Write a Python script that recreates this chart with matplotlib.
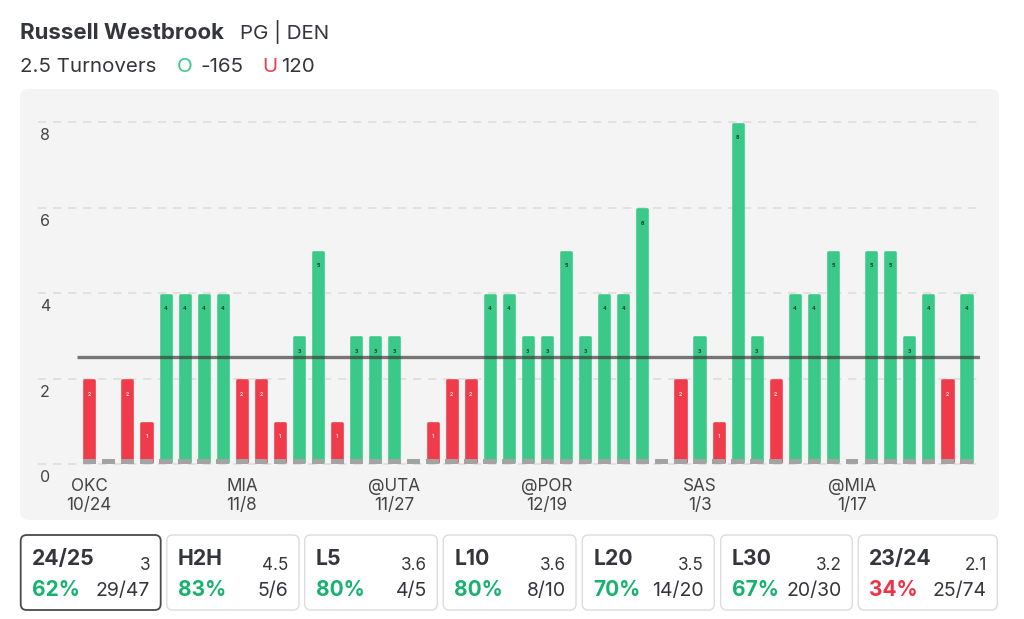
import matplotlib
matplotlib.use("Agg")
import matplotlib.pyplot as plt
import matplotlib.transforms as mtransforms
from matplotlib.patches import FancyBboxPatch

plt.rcParams['font.family'] = ['Inter', 'DejaVu Sans']

# ---------------- data ----------------
turnovers = [2, 0, 2, 1, 4, 4, 4, 4, 2, 2, 1, 3, 5, 1, 3, 3, 3, 0, 1, 2, 2, 4, 4, 3,
             3, 5, 3, 4, 4, 6, 0, 2, 3, 1, 8, 3, 2, 4, 4, 5, 0, 5, 5, 3, 4, 2, 4]
prop_line = 2.5
tick_idx = [0, 8, 16, 24, 32, 40]
tick_labels = ["OKC\n10/24", "MIA\n11/8", "@UTA\n11/27", "@POR\n12/19", "SAS\n1/3", "@MIA\n1/17"]
y_ticks = [0, 2, 4, 6, 8]

player = "Russell Westbrook"
pos_team = "PG | DEN"
market = "2.5 Turnovers"
over_odds = "-165"
under_odds = "120"

card_titles = ["24/25", "H2H", "L5", "L10", "L20", "L30", "23/24"]
card_avgs = ["3", "4.5", "3.6", "3.6", "3.5", "3.2", "2.1"]
card_pcts = [62, 83, 80, 80, 70, 67, 34]
card_fracs = ["29/47", "5/6", "4/5", "8/10", "14/20", "20/30", "25/74"]

GREEN = "#3bc98a"
RED = "#ef3b4a"
GREEN_TXT = "#17b26f"
RED_TXT = "#ee3344"
DARK = "#35353d"

W, H = 1024, 619
fig = plt.figure(figsize=(W / 100, H / 100), dpi=100)
fig.patch.set_facecolor("white")
px = mtransforms.Affine2D().scale(1 / 100, -1 / 100).translate(0, H / 100) + fig.dpi_scale_trans

# panel background
panel = FancyBboxPatch((20, 89), 979, 431, boxstyle="round,pad=0,rounding_size=9",
                       transform=px, facecolor="#f4f4f4", edgecolor="none", zorder=-5)
fig.patches.append(panel)

# ---------------- axes ----------------
x0_px, step_px = 89.3, 19.07
y0_px, unit_px = 464.3, 42.75
ax_l, ax_r = 38, 980
y_lo, y_hi = -0.15, 8.3
ax_t = y0_px - y_hi * unit_px
ax_b = y0_px - y_lo * unit_px
ax = fig.add_axes([ax_l / W, 1 - ax_b / H, (ax_r - ax_l) / W, (ax_b - ax_t) / H])
ax.set_zorder(2)
ax.set_facecolor("none")
ax.set_xlim((ax_l - x0_px) / step_px, (ax_r - x0_px) / step_px)
ax.set_ylim(y_lo, y_hi)
for s in ax.spines.values():
    s.set_visible(False)

offset = mtransforms.ScaledTranslation(0, -6 / 100, fig.dpi_scale_trans)
for yv in y_ticks:
    ax.axhline(yv, color="#dedede", lw=1.2, dashes=(5, 4), zorder=1)
    ax.text(0.002, yv, str(yv), transform=ax.get_yaxis_transform() + offset, ha="left",
            va="top", fontsize=11.5, color="#444444")
ax.set_yticks([])

# bars
lw_px = 2.6
bw = (12.7 - lw_px) / step_px
stub_w = 12.7 / step_px
xs = list(range(len(turnovers)))
for i, v in enumerate(turnovers):
    if v > 0:
        c = GREEN if v > prop_line else RED
        top = v - (lw_px / 2) / unit_px
        ax.bar(i, top - 0.06, bottom=0.06, width=bw, color=c, edgecolor=c,
               linewidth=lw_px * 0.72, joinstyle="round", zorder=2)
        ax.annotate(str(v), (i, v), xytext=(0, -11), textcoords="offset points",
                    ha="center", va="center", fontsize=3.8, fontweight="bold",
                    color=("#1d3b2c" if v > prop_line else "#ffe3e5"), zorder=5)
ax.bar(xs, [0.125] * len(xs), bottom=0, width=stub_w, color="#a3a3a3", zorder=3)

# prop line
ax.plot([-0.66, 46.7], [prop_line, prop_line], color="#3a3a3a", alpha=0.68, lw=2.4,
        solid_capstyle="butt", zorder=4)

ax.set_xticks(tick_idx)
ax.set_xticklabels(tick_labels, fontsize=12.3, color="#444444", linespacing=1.2)
ax.tick_params(axis="x", length=0, pad=5)

# ---------------- header ----------------
fig.text(20, 39, player, transform=px, fontsize=16, fontweight="bold", color=DARK, va="baseline")
fig.text(240, 39, pos_team, transform=px, fontsize=14.8, color=DARK, va="baseline")
fig.text(20, 71.5, market, transform=px, fontsize=14.8, color=DARK, va="baseline")
fig.text(177, 71.5, "O", transform=px, fontsize=14.8, color=GREEN, va="baseline")
fig.text(200, 71.5, over_odds, transform=px, fontsize=14.8, color=DARK, va="baseline")
fig.text(262, 71.5, "U", transform=px, fontsize=14.8, color=RED, va="baseline")
fig.text(281, 71.5, under_odds, transform=px, fontsize=14.8, color=DARK, va="baseline")

# ---------------- cards ----------------
card_lefts = [20.7, 166.7, 304.7, 443.3, 582.3, 720.7, 858.3]
card_rights = [160.7, 299, 437.3, 576, 714.3, 852.3, 997.3]
for k in range(len(card_titles)):
    l, r = card_lefts[k], card_rights[k]
    sel = k == 0
    box = FancyBboxPatch((l, 535), r - l, 75, boxstyle="round,pad=0,rounding_size=6",
                         transform=px, facecolor="white",
                         edgecolor=("#4a4a4a" if sel else "#dcdcdc"),
                         linewidth=(1.3 if sel else 1.0))
    fig.patches.append(box)
    fig.text(l + 11, 565, card_titles[k], transform=px, fontsize=15.3, fontweight="bold",
             color=DARK, va="baseline")
    fig.text(r - 10.5, 570, card_avgs[k], transform=px, fontsize=12.3, color=DARK,
             va="baseline", ha="right")
    pc = GREEN_TXT if card_pcts[k] >= 50 else RED_TXT
    fig.text(l + 11, 596, f"{card_pcts[k]}%", transform=px, fontsize=15, fontweight="bold",
             color=pc, va="baseline")
    fig.text(r - 10.5, 596, card_fracs[k], transform=px, fontsize=14, color=DARK,
             va="baseline", ha="right")

fig.savefig("out.png", dpi=100, facecolor="white")
